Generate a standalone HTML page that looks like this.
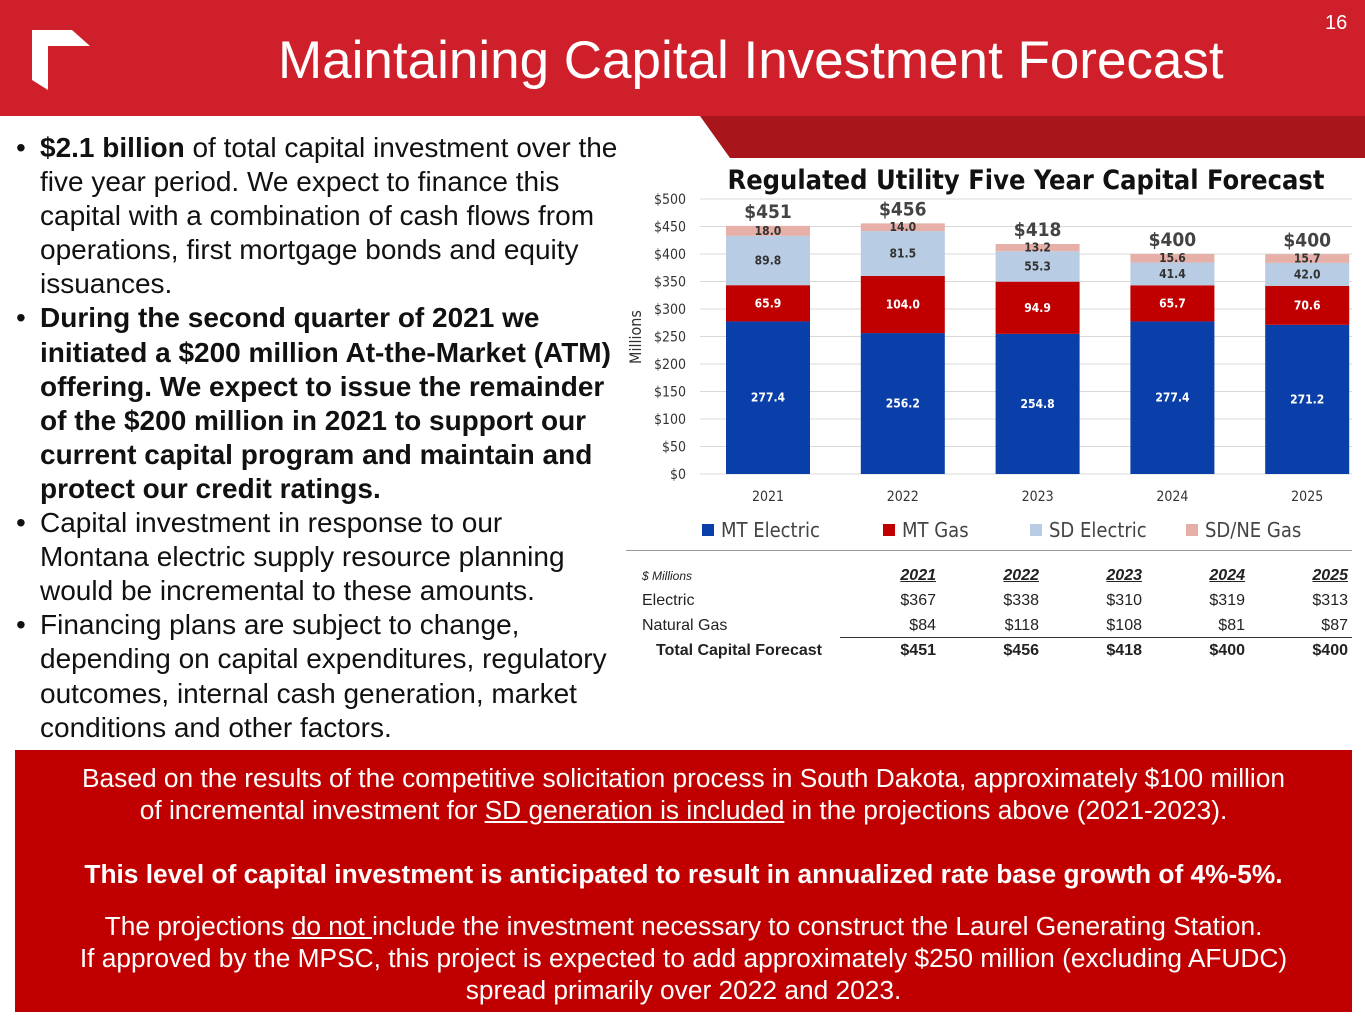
<!DOCTYPE html>
<html><head><meta charset="utf-8"><style>
body{margin:0;width:1365px;height:1024px;position:relative;background:#fff;font-family:"Liberation Sans",sans-serif;overflow:hidden}
.abs{position:absolute}
#bul{left:14px;top:131px;width:640px;font-size:28px;line-height:34.1px;color:#111;white-space:nowrap}
#bul div{position:relative;padding-left:26px}
#bul div:before{content:"•";position:absolute;left:2px}
#box{left:15px;top:750px;width:1337px;height:262px;background:#c00000;color:#fff;text-align:center;font-size:26.3px;line-height:32px;white-space:nowrap}
table td{padding:0}
</style></head><body>
<div class="abs" style="left:0;top:0;width:1365px;height:116px;background:#cf1f2a"></div>
<svg class="abs" style="left:0;top:0" width="1365" height="170">
<polygon points="700,116 1365,116 1365,158 730,158" fill="#a8161c"/>
<polygon points="32,30 72,30 90,46 48,46 48,90 32,80" fill="#fff"/>
</svg>
<div class="abs" style="left:1325px;top:12px;color:#fff;font-size:20px">16</div>
<div class="abs" style="left:278px;top:30px;color:#fff;font-size:53px">Maintaining Capital Investment Forecast</div>
<div id="bul" class="abs">
<div><b>$2.1 billion</b> of total capital investment over the<br>five year period. We expect to finance this<br>capital with a combination of cash flows from<br>operations, first mortgage bonds and equity<br>issuances.</div>
<div><b>During the second quarter of 2021 we<br>initiated a $200 million At-the-Market (ATM)<br>offering. We expect to issue the remainder<br>of the $200 million in 2021 to support our<br>current capital program and maintain and<br>protect our credit ratings.</b></div>
<div>Capital investment in response to our<br>Montana electric supply resource planning<br>would be incremental to these amounts.</div>
<div>Financing plans are subject to change,<br>depending on capital expenditures, regulatory<br>outcomes, internal cash generation, market<br>conditions and other factors.</div>
</div>
<svg id="chart" class="abs" style="left:0;top:0" width="1365" height="560"></svg>
<div class="abs" style="left:626px;top:550px;width:726px;border-top:1px solid #999;font-family:'Liberation Sans',sans-serif;font-size:16px;color:#222">
<div style="position:absolute;left:214px;top:86px;width:512px;border-top:1px solid #333"></div>
<table style="border-collapse:collapse;width:722px;margin-top:12px">
<tr style="height:25px"><td style="font-style:italic;font-size:12px;padding-left:16px">$ Millions</td><td align=right style="font-weight:bold;font-style:italic;text-decoration:underline;width:103px">2021</td><td align=right style="font-weight:bold;font-style:italic;text-decoration:underline;width:103px">2022</td><td align=right style="font-weight:bold;font-style:italic;text-decoration:underline;width:103px">2023</td><td align=right style="font-weight:bold;font-style:italic;text-decoration:underline;width:103px">2024</td><td align=right style="font-weight:bold;font-style:italic;text-decoration:underline;width:103px">2025</td></tr>
<tr style="height:25px"><td style="padding-left:16px">Electric</td><td align=right>$367</td><td align=right>$338</td><td align=right>$310</td><td align=right>$319</td><td align=right>$313</td></tr>
<tr style="height:25px"><td style="padding-left:16px">Natural Gas</td><td align=right>$84</td><td align=right>$118</td><td align=right>$108</td><td align=right>$81</td><td align=right>$87</td></tr>
<tr style="height:25px;font-weight:bold"><td style="padding-left:30px">Total Capital Forecast</td><td align=right>$451</td><td align=right>$456</td><td align=right>$418</td><td align=right>$400</td><td align=right>$400</td></tr>
</table></div>
<div id="box" class="abs">
<div style="margin-top:12px">Based on the results of the competitive solicitation process in South Dakota, approximately $100 million<br>of incremental investment for <u>SD generation is included</u> in the projections above (2021-2023).</div>
<div style="margin-top:32px;font-weight:bold">This level of capital investment is anticipated to result in annualized rate base growth of 4%-5%.</div>
<div style="margin-top:20px">The projections <u>do not </u>include the investment necessary to construct the Laurel Generating Station.<br>If approved by the MPSC, this project is expected to add approximately $250 million (excluding AFUDC)<br>spread primarily over 2022 and 2023.</div>
</div>
<script>
const years=["2021","2022","2023","2024","2025"];
const mtElectric=[277.4,256.2,254.8,277.4,271.2];
const mtGas=[65.9,104.0,94.9,65.7,70.6];
const sdElectric=[89.8,81.5,55.3,41.4,42.0];
const sdneGas=[18.0,14.0,13.2,15.6,15.7];
const totals=["$451","$456","$418","$400","$400"];
const yTicks=[0,50,100,150,200,250,300,350,400,450,500];
const seriesNames=["MT Electric","MT Gas","SD Electric","SD/NE Gas"];
const colors=["#0a3ea8","#c00000","#b8cce4","#e6b0a8"];
const svg=document.getElementById('chart');const NS="http://www.w3.org/2000/svg";
const y0=474,y1=199,vmax=500;
const Y=v=>y0-(v/vmax)*(y0-y1);
const X=i=>768+i*134.8;
const bw=84;
function mk(t,a,txt){const e=document.createElementNS(NS,t);for(const k in a)e.setAttribute(k,a[k]);if(txt!=null)e.textContent=txt;svg.appendChild(e);return e;}
const ff="'DejaVu Sans Condensed','Liberation Sans Narrow','Liberation Sans',sans-serif";
let t=mk('text',{x:1026,y:189,'text-anchor':'middle','font-size':27,'font-weight':'bold','font-family':ff,fill:'#111'},'Regulated Utility Five Year Capital Forecast');


yTicks.forEach(v=>{let g=mk('line',{x1:700,x2:1352,y1:Y(v),y2:Y(v),stroke:'#d9d9d9'});


let l=mk('text',{x:686,y:Y(v)+5,'text-anchor':'end','font-size':14,'font-family':ff,fill:'#333'},'$'+v);

});
let yt=mk('text',{x:641,y:337,'text-anchor':'middle','font-size':16,'font-family':ff,fill:'#333',transform:'rotate(-90 641 337)'},'Millions');


const series=[mtElectric,mtGas,sdElectric,sdneGas];
years.forEach((yr,i)=>{let base=0;
series.forEach((s,k)=>{const v=s[i];const r=mk('rect',{x:X(i)-bw/2,y:Y(base+v),width:bw,height:Y(base)-Y(base+v),fill:colors[k]});


const ly=(Y(base)+Y(base+v))/2+4;
const lb=mk('text',{x:X(i),y:ly,'text-anchor':'middle','font-size':12,'font-weight':'bold','font-family':ff,fill:k<2?'#fff':'#333'},v.toFixed(1));


base+=v;});
const tl=mk('text',{x:X(i),y:Y(base)-8,'text-anchor':'middle','font-size':19,'font-weight':'bold','font-family':ff,fill:'#444'},totals[i]);


const xl=mk('text',{x:X(i),y:501,'text-anchor':'middle','font-size':14,'font-family':ff,fill:'#333'},yr);

});
const lx=[702,883,1030,1186];
seriesNames.forEach((n,k)=>{const r=mk('rect',{x:lx[k],y:524,width:12,height:12,fill:colors[k]});


const tx=mk('text',{x:lx[k]+19,y:537,'font-size':20,'font-family':ff,fill:'#444'},n);

});
</script>
</body></html>
